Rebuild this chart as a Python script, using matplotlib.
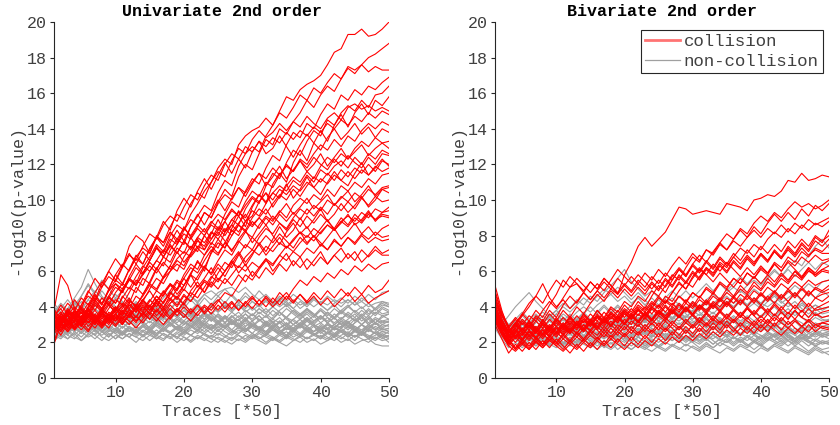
import matplotlib
matplotlib.use("Agg")
import matplotlib.pyplot as plt
from matplotlib.lines import Line2D

traces = list(range(1, 51))

uni_collision = [
 [3.2,2.9,3.6,3.1,3.8,3.4,4.1,3.7,4.5,4.2,5.0,5.6,5.3,6.2,6.8,7.5,7.1,8.0,8.6,8.3,9.2,9.8,10.5,11.0,11.8,12.3,12.0,13.1,13.6,13.9,14.1,14.6,14.2,15.0,15.8,15.6,16.2,16.5,16.7,17.0,17.6,18.3,18.5,19.3,19.3,19.6,19.2,19.3,19.6,20.0],
 [2.0,3.3,3.0,3.5,2.9,3.4,3.8,3.3,3.9,4.4,4.1,4.8,5.5,5.2,6.0,6.6,6.3,7.2,7.8,7.5,8.5,9.1,9.7,9.4,10.4,11.1,10.8,11.9,12.6,13.0,12.7,13.6,14.2,14.9,14.6,15.2,15.9,15.6,16.3,16.0,16.6,17.1,16.8,17.5,17.3,17.6,18.0,18.2,18.5,18.8],
 [3.5,3.0,3.7,3.3,2.9,3.6,3.2,3.9,4.3,3.8,4.5,5.1,4.8,5.6,5.3,6.1,6.8,6.5,7.3,7.0,7.9,8.5,9.3,9.0,9.9,10.6,10.2,11.3,12.0,11.7,12.6,13.4,13.1,14.0,13.7,14.4,14.9,15.6,15.2,15.9,16.4,16.1,16.8,17.4,17.1,17.6,17.2,17.5,17.3,17.3],
 [3.0,3.4,2.8,3.2,3.7,3.1,3.5,3.0,3.6,3.3,3.9,4.4,4.0,4.7,5.3,5.0,5.7,6.3,6.0,6.8,7.4,7.1,8.0,8.6,8.3,9.2,9.9,9.6,10.5,11.2,10.9,11.8,12.5,12.2,13.1,13.8,13.5,14.3,14.0,14.8,15.4,15.1,15.9,15.6,16.2,15.9,16.4,16.2,16.6,16.9],
 [3.3,2.8,3.1,3.6,3.2,2.7,3.3,3.0,3.5,3.2,3.7,3.4,4.0,3.7,4.3,4.9,4.6,5.3,5.0,5.8,6.4,6.1,6.9,7.6,7.3,8.2,8.9,8.6,9.5,10.1,9.8,10.8,11.5,11.2,12.1,12.8,12.5,13.3,13.9,13.6,14.5,14.2,14.9,15.3,15.0,15.6,15.2,15.9,16.0,16.4],
 [2.9,3.5,3.1,3.8,3.3,3.9,4.5,4.1,4.9,5.5,5.2,6.1,6.7,6.4,7.3,7.9,7.6,8.5,9.2,8.9,9.8,10.4,10.1,11.0,11.6,11.3,12.2,12.9,12.6,13.4,13.9,13.5,13.8,14.3,13.9,14.4,14.1,14.7,14.3,14.0,14.6,14.9,14.5,15.2,15.4,15.1,15.3,15.0,15.2,15.0],
 [1.9,3.0,2.6,3.2,3.7,3.3,3.0,3.6,3.2,3.8,4.2,3.9,4.6,4.3,5.0,5.6,5.3,6.0,6.6,6.3,7.0,7.7,7.4,8.2,8.0,8.8,9.4,9.1,9.9,10.5,10.2,11.0,10.7,11.4,11.9,11.6,12.3,12.0,12.6,13.1,12.8,13.4,13.0,13.6,13.3,13.9,14.3,14.0,14.4,14.2],
 [3.1,3.6,3.2,2.8,3.3,3.9,3.5,3.1,3.7,3.4,3.0,3.6,4.1,3.8,4.4,4.0,4.7,5.2,4.9,5.6,6.2,5.9,6.6,7.2,6.9,7.6,8.3,8.0,8.8,9.4,9.1,9.8,10.4,10.1,10.8,11.3,11.0,11.6,11.2,11.9,12.4,12.1,12.6,12.3,12.9,13.3,13.0,13.5,13.2,13.3],
 [2.6,3.1,3.7,3.3,3.9,3.5,4.2,3.8,4.5,5.1,4.8,5.5,6.2,5.8,6.6,7.3,7.0,7.8,7.5,8.3,8.9,8.6,9.3,9.0,9.8,10.3,10.0,10.7,10.4,11.0,11.5,11.2,11.8,11.4,12.0,11.6,12.2,11.8,12.4,12.0,11.7,12.3,11.9,12.5,12.1,11.8,12.4,12.0,12.6,12.5],
 [3.8,3.3,2.9,3.4,3.0,3.5,3.1,3.6,3.3,3.9,3.5,4.1,3.7,4.3,4.0,4.6,4.2,4.9,5.5,5.2,5.9,6.5,6.2,7.0,7.6,7.3,8.0,8.6,8.3,9.0,9.5,9.2,9.8,10.3,10.0,10.6,10.2,10.8,11.3,11.0,11.5,11.1,11.7,11.3,11.8,11.5,12.0,11.6,12.2,12.0],
 [3.0,3.5,3.1,3.7,3.2,3.8,3.4,3.0,3.6,3.2,3.8,3.4,3.9,3.5,4.1,3.7,4.3,4.8,4.5,5.2,5.8,5.5,6.2,5.9,6.6,7.2,6.9,7.6,8.2,7.9,8.6,9.1,8.8,9.4,9.0,9.7,10.1,9.8,10.3,10.0,10.6,10.2,10.8,10.5,11.0,10.7,11.2,10.9,11.4,11.5],
 [3.5,3.1,2.7,3.3,2.9,3.4,3.0,3.5,3.1,3.6,3.3,3.8,3.4,4.0,3.6,4.2,3.8,4.4,4.0,4.6,4.3,4.9,5.5,5.2,5.9,6.5,6.2,6.9,7.5,7.2,7.9,8.4,8.1,8.7,8.4,9.0,9.5,9.2,9.7,9.4,10.0,9.7,10.2,9.9,10.4,10.1,10.6,10.3,10.7,10.8],
 [2.8,3.3,3.8,3.4,4.0,3.6,4.3,3.9,4.6,4.2,4.9,5.5,5.2,5.9,6.5,6.1,6.8,7.4,7.0,7.7,7.3,7.9,7.6,8.2,7.8,8.4,8.0,8.6,8.2,8.8,8.4,9.0,8.6,9.2,8.8,9.3,8.9,9.5,9.1,9.6,9.2,9.8,9.4,9.9,9.5,10.1,9.7,10.2,9.9,10.0],
 [3.2,2.8,3.3,2.9,3.5,3.1,3.6,3.2,2.8,3.4,3.0,3.5,3.1,3.7,3.3,3.9,3.5,4.1,3.7,4.3,4.8,4.5,5.1,5.7,5.4,6.0,6.5,6.2,6.8,7.2,6.9,7.4,7.1,7.6,7.3,7.8,8.2,7.9,8.4,8.1,8.6,8.3,8.8,8.5,9.0,8.7,9.2,8.9,9.3,9.4],
 [3.0,3.6,4.2,3.8,4.5,4.1,4.8,5.4,5.0,5.8,6.4,6.0,6.8,7.3,7.0,8.0,7.6,8.2,7.8,8.4,8.0,8.6,8.2,8.8,8.4,8.0,8.6,8.2,8.8,8.5,9.0,8.6,9.1,8.7,8.3,8.9,8.5,9.1,8.7,9.2,8.8,8.4,9.0,8.6,9.2,8.8,9.3,8.9,9.1,9.0],
 [3.6,3.2,3.8,3.4,3.0,3.5,3.1,3.7,3.3,3.9,3.5,4.1,3.7,4.2,3.8,4.4,4.0,4.5,4.1,4.7,4.3,4.9,5.4,5.1,5.6,5.3,5.8,6.3,6.0,6.5,6.2,6.7,6.4,6.9,6.6,7.1,6.8,7.3,7.0,7.5,7.2,7.7,7.4,7.9,7.6,8.1,7.8,8.2,7.9,8.0],
 [3.1,2.7,3.3,3.8,3.4,4.0,4.6,4.2,4.9,5.3,5.0,5.6,5.2,5.8,6.3,5.9,6.5,6.1,6.7,7.1,6.8,7.3,6.9,7.4,7.0,7.6,7.2,7.7,7.3,7.9,7.5,8.0,7.6,8.1,7.7,7.3,7.9,7.5,8.0,7.6,7.2,7.8,7.4,7.9,7.5,8.0,7.6,7.9,7.7,7.8],
 [3.4,3.0,3.5,3.1,2.7,3.2,2.8,3.4,3.0,3.5,3.1,3.6,3.2,3.7,3.3,3.8,3.4,3.9,3.5,4.0,3.6,4.1,3.7,4.2,3.8,4.3,3.9,4.4,4.0,4.5,4.1,4.6,4.2,4.8,4.4,5.0,5.5,5.2,5.7,5.4,5.9,5.6,6.1,5.8,6.3,6.0,6.4,6.1,6.4,6.5],
 [2.9,3.4,3.0,3.5,3.1,3.6,3.2,2.8,3.3,2.9,3.4,3.0,3.5,3.1,3.6,3.2,3.7,3.3,3.8,3.4,3.9,3.5,4.0,3.6,4.1,3.7,4.2,3.8,4.3,3.9,4.4,4.0,4.5,4.1,4.6,4.2,4.7,4.3,4.8,4.4,4.9,4.5,5.0,4.6,5.1,4.7,5.2,4.8,5.0,5.5],
 [3.8,5.8,5.2,3.9,3.3,3.8,3.4,3.9,3.5,4.0,3.6,4.2,3.8,4.4,4.0,4.6,4.2,4.8,4.4,5.0,4.6,5.2,4.8,5.4,5.0,5.6,5.2,5.8,5.4,6.0,5.6,6.2,5.8,6.4,6.0,6.6,6.2,6.7,6.3,6.8,6.4,6.9,6.5,7.0,6.6,7.2,6.8,7.2,6.9,6.9],
 [3.3,3.7,3.1,3.6,3.9,3.4,3.2,3.8,3.5,4.0,3.7,4.3,4.1,4.6,5.2,4.9,5.6,6.0,6.4,6.1,6.9,7.4,7.2,7.8,8.5,8.2,8.9,9.3,9.0,9.7,10.3,9.9,10.4,10.8,10.5,11.1,10.8,11.4,11.0,11.7,11.4,11.9,12.2,11.8,12.4,12.0,12.6,12.3,12.8,12.6],
 [2.8,3.2,3.9,3.5,4.1,4.6,4.3,5.1,5.7,5.4,6.2,6.9,6.6,7.4,8.1,7.8,8.6,9.1,8.8,9.6,10.3,10.0,10.8,11.4,11.1,12.0,12.6,12.3,13.0,12.7,13.3,13.0,13.5,13.2,13.8,13.4,13.9,13.6,14.1,13.8,14.3,14.0,14.5,14.2,14.7,14.4,14.9,14.6,15.0,14.8],
 [3.0,2.6,3.1,2.7,3.2,3.6,3.3,2.9,3.4,3.0,3.5,3.2,2.8,3.3,3.7,3.4,3.0,3.5,3.9,3.6,3.2,3.7,4.1,3.8,4.3,4.8,4.6,5.2,5.8,5.5,6.1,6.6,6.3,6.9,7.4,7.1,7.6,8.0,7.7,8.2,8.6,8.3,8.8,9.1,8.8,9.3,9.0,9.5,9.3,9.6],
 [3.6,3.1,3.5,4.0,3.6,4.2,3.8,4.5,4.1,4.8,5.3,5.0,5.7,6.3,6.0,6.6,7.2,6.9,7.5,8.1,7.8,8.4,8.0,8.7,9.2,8.9,9.5,9.1,9.7,10.2,9.9,10.4,10.0,10.6,10.3,10.8,10.5,11.0,10.7,11.2,10.9,11.4,11.1,11.6,11.2,11.7,11.4,11.9,11.6,11.8],
 [3.4,4.1,3.6,4.4,3.9,4.8,5.6,5.1,6.0,6.7,6.2,7.4,8.0,7.7,7.0,7.9,8.8,8.3,9.4,10.1,9.6,10.5,11.2,10.6,11.4,12.1,11.5,12.3,11.8,12.7,13.3,12.6,12.9,13.6,13.0,12.4,13.1,13.7,13.2,12.8,13.5,14.0,13.4,13.8,14.3,13.7,14.1,13.5,14.0,13.8],
 [2.5,2.9,3.6,2.8,3.3,3.9,3.1,3.5,4.1,3.7,4.6,4.2,5.1,4.7,5.4,6.2,5.6,6.3,7.1,6.5,7.0,7.8,7.2,8.1,8.9,8.2,8.6,9.4,8.8,9.1,9.9,10.4,9.6,10.2,10.9,10.1,10.6,11.3,10.7,10.3,11.0,11.6,11.1,10.8,11.5,12.1,11.4,11.8,12.3,11.9],
 [3.9,3.2,3.5,2.7,3.1,3.8,3.4,2.9,3.3,3.6,3.1,3.5,4.0,3.4,3.8,4.3,3.7,4.2,4.6,4.1,4.9,5.4,4.8,5.6,6.2,5.7,6.4,7.0,6.3,6.9,7.6,7.1,7.8,8.5,7.9,8.3,9.0,8.4,8.9,9.5,8.8,9.2,9.8,9.3,9.7,10.2,9.6,10.0,10.6,10.4],
 [3.0,2.4,3.1,3.7,3.2,4.0,4.7,4.1,5.0,5.8,5.3,6.1,6.9,6.4,7.2,7.9,7.4,8.2,7.6,8.5,7.9,7.3,8.0,7.5,8.2,7.7,7.1,7.8,8.3,7.6,8.1,8.6,8.0,7.5,8.2,8.7,8.1,8.5,7.9,8.4,8.9,8.3,8.7,9.2,8.6,8.9,9.4,8.8,9.2,9.1],
 [2.7,3.3,2.9,3.5,3.0,2.6,3.2,3.7,3.1,3.6,3.2,3.9,3.4,4.1,3.6,4.4,3.9,4.7,5.4,4.9,5.8,6.6,6.0,7.1,7.8,7.3,8.4,9.1,8.5,9.6,10.3,9.8,10.9,11.5,11.0,12.1,12.8,12.2,13.2,13.9,13.3,14.2,14.8,14.1,14.9,15.4,14.8,15.6,15.3,15.8],
 [3.5,3.9,3.2,2.8,3.4,3.9,3.3,3.7,4.2,3.6,4.0,4.5,3.9,4.4,4.9,4.3,4.8,5.3,4.7,5.2,5.8,5.1,5.6,6.2,5.5,6.0,6.6,5.9,6.4,5.7,6.2,6.7,6.0,6.5,7.0,6.3,6.8,6.1,6.6,7.1,6.4,6.9,7.3,6.7,7.1,6.5,6.9,7.4,7.0,7.2],
 [3.1,2.6,3.3,3.8,3.2,3.7,4.4,3.9,4.6,5.3,4.8,5.7,6.4,5.9,6.6,7.4,6.8,7.6,8.3,7.7,8.5,9.2,8.6,9.3,10.0,9.4,10.1,10.7,10.2,10.9,11.5,10.8,11.3,11.9,11.2,11.7,12.2,11.6,12.0,12.6,11.9,12.4,12.9,12.3,12.7,13.1,12.5,12.9,13.2,12.9],
 [2.9,3.4,2.8,3.2,3.7,3.1,3.5,3.0,3.4,3.9,3.3,3.7,3.2,3.6,4.0,3.5,3.9,3.4,3.8,4.2,3.7,4.1,3.6,4.0,4.4,3.9,4.3,3.8,4.2,4.6,4.1,4.5,4.0,4.4,4.8,4.3,4.7,4.2,4.6,4.1,4.5,4.0,4.4,4.8,4.3,4.7,4.2,4.5,4.7,4.9],
 [2.6,3.2,3.8,3.3,4.1,4.9,4.4,5.3,6.0,5.5,6.3,7.0,6.4,7.1,6.6,7.3,6.8,7.5,7.0,7.7,7.2,7.9,8.4,7.8,8.3,8.8,8.2,8.7,9.2,8.6,9.0,9.5,8.9,9.3,9.8,9.2,9.6,10.1,9.5,9.9,10.3,9.7,10.1,10.5,9.9,10.3,10.8,10.2,10.6,10.7],
 [3.7,3.1,2.6,3.0,3.5,2.9,3.3,3.8,3.2,3.6,4.1,3.5,3.9,4.4,3.8,4.3,4.9,4.4,5.0,5.6,5.1,5.7,6.3,5.8,6.4,6.0,6.6,7.1,6.5,7.0,7.5,6.9,7.4,7.9,7.3,7.7,8.2,7.6,8.0,7.4,7.9,8.4,7.8,8.2,8.7,8.1,8.5,8.0,8.4,8.6],
]

uni_noncollision = [
 [2.5,2.8,2.4,2.9,3.1,2.7,3.0,2.6,2.9,3.2,2.8,3.1,3.4,3.0,2.7,3.1,2.9,3.3,3.0,2.8,3.2,2.9,2.6,3.0,2.8,3.1,2.7,2.5,2.9,3.2,2.8,2.6,3.0,2.7,2.4,2.8,3.1,2.9,2.6,2.8,3.0,2.7,2.9,3.2,2.8,2.6,2.9,3.1,2.7,2.8],
 [3.4,3.0,3.6,4.1,4.6,5.2,4.7,4.2,4.6,4.0,3.7,4.1,3.8,3.5,3.9,3.6,3.3,3.7,3.4,3.8,3.5,3.2,3.6,3.3,3.0,3.4,3.1,3.5,3.2,3.6,3.3,3.0,3.3,3.1,3.4,3.2,2.9,3.3,3.0,3.4,3.1,2.8,3.2,2.9,3.3,3.0,3.4,3.1,3.5,3.3],
 [3.0,3.5,3.9,4.5,5.1,6.1,5.3,4.6,4.2,4.7,4.3,3.9,4.2,3.8,4.1,3.7,3.4,3.8,3.5,3.2,3.6,3.3,3.7,3.4,3.1,3.5,3.2,2.9,3.3,3.0,2.8,3.2,2.9,3.1,2.7,3.0,2.8,3.2,2.9,2.6,3.0,2.7,2.9,3.1,2.8,2.5,2.9,2.7,3.0,2.9],
 [2.3,2.6,2.2,2.5,2.1,2.4,2.7,2.3,2.1,2.4,2.2,2.5,2.3,2.1,2.4,2.2,2.5,2.3,2.0,2.3,2.1,2.4,2.2,2.0,2.3,2.1,1.9,2.2,2.0,2.3,2.1,1.9,2.2,2.0,1.8,2.1,2.3,2.0,2.2,1.9,2.1,2.3,2.0,2.2,1.9,2.1,2.2,1.9,1.8,1.8],
 [3.8,3.3,2.9,3.4,3.7,3.2,3.6,3.9,3.5,3.2,3.6,3.3,3.0,3.4,3.7,3.3,3.6,3.9,3.5,3.8,3.4,3.7,4.0,3.6,3.9,4.2,3.8,4.1,3.7,4.0,3.6,3.9,3.5,3.8,4.1,3.7,3.4,3.8,3.5,3.9,3.6,3.3,3.7,3.4,3.8,3.5,3.9,3.6,4.0,3.8],
 [2.8,3.2,3.6,3.3,3.9,3.5,3.2,3.7,4.1,3.7,3.4,3.9,4.3,3.9,4.4,4.0,4.5,4.9,4.5,4.1,4.6,4.2,4.7,4.4,4.8,5.0,4.6,4.2,4.6,4.3,4.0,4.4,4.1,4.5,4.2,3.9,4.3,4.0,4.4,4.1,3.8,4.2,4.5,4.2,4.6,4.3,4.7,4.4,4.8,4.9],
 [2.6,2.3,2.7,2.4,2.8,2.5,2.9,2.6,2.3,2.7,2.5,2.8,2.6,2.9,3.2,2.9,2.6,3.0,2.7,2.5,2.8,3.1,2.8,2.5,2.9,2.6,2.4,2.7,2.5,2.3,2.6,2.4,2.2,2.5,2.3,2.6,2.4,2.7,2.5,2.3,2.6,2.4,2.7,2.5,2.3,2.6,2.4,2.2,2.5,2.3],
 [3.1,2.7,3.2,2.8,2.5,2.9,3.3,3.0,3.4,3.1,3.5,3.9,3.5,3.2,3.6,4.0,3.7,3.3,3.7,4.1,3.8,3.4,3.0,3.4,3.1,2.8,3.2,2.9,2.6,3.0,2.7,3.1,2.8,3.2,2.9,2.6,3.0,3.3,3.0,2.7,3.1,2.8,3.2,2.9,2.6,3.0,2.7,3.1,2.8,3.0],
 [3.3,3.7,3.2,2.8,3.3,3.0,2.7,3.1,2.8,2.5,2.9,2.6,2.9,3.2,2.8,2.5,2.8,3.1,2.7,3.0,3.3,2.9,3.2,3.5,3.1,3.4,3.0,3.3,3.6,3.2,3.5,3.1,3.4,3.7,3.3,3.0,3.3,3.6,3.2,3.5,3.1,3.4,3.0,3.3,3.6,3.2,3.5,3.1,3.4,3.6],
 [2.2,2.5,2.9,2.6,3.0,2.7,2.4,2.8,2.5,2.2,2.5,2.3,2.6,2.4,2.7,2.5,2.8,2.6,2.9,2.7,2.4,2.7,2.5,2.8,3.1,2.8,3.1,2.9,2.6,2.9,2.7,3.0,2.7,2.5,2.8,2.6,2.9,2.7,2.4,2.7,2.5,2.8,2.6,2.3,2.6,2.4,2.7,2.5,2.3,2.4],
 [4.0,3.6,3.2,3.7,3.3,3.8,4.2,3.8,3.4,3.9,3.5,3.2,3.6,3.3,3.7,4.0,3.6,3.9,4.3,3.9,3.6,4.0,3.7,4.1,4.4,4.0,3.7,4.1,3.8,3.5,3.9,3.6,4.0,3.7,3.4,3.8,3.5,3.9,3.6,3.3,3.7,3.4,3.8,3.5,3.2,3.6,3.3,3.7,3.5,3.6],
 [2.9,3.3,2.9,2.6,3.0,2.7,3.1,2.8,3.2,2.9,2.6,2.9,2.7,3.0,2.7,2.4,2.8,2.5,2.3,2.6,2.4,2.7,2.4,2.2,2.5,2.3,2.6,2.4,2.1,2.4,2.2,2.5,2.3,2.0,2.3,2.1,2.4,2.2,2.5,2.3,2.1,2.4,2.2,2.5,2.3,2.6,2.3,2.1,2.4,2.2],
 [3.2,2.8,3.3,3.0,3.4,3.1,2.8,3.2,3.5,3.2,3.6,3.3,3.7,3.4,3.8,4.1,3.8,4.2,4.5,4.2,4.6,4.3,4.7,4.9,4.6,5.0,5.1,4.8,5.1,4.7,4.4,4.7,4.3,4.0,4.3,3.9,3.6,3.9,3.5,3.8,3.4,3.1,3.4,3.1,3.4,3.0,3.3,3.0,3.2,3.1],
 [2.7,3.1,3.5,3.1,2.8,3.2,2.9,2.6,2.9,2.6,2.4,2.7,2.4,2.7,2.5,2.2,2.5,2.3,2.6,2.4,2.7,2.5,2.8,3.0,2.7,2.9,2.6,2.8,3.1,2.8,2.6,2.9,3.1,2.8,3.0,2.7,2.9,3.2,2.9,3.1,2.8,3.0,3.3,3.0,2.7,3.0,2.8,3.1,2.9,3.0],
 [3.6,4.1,3.7,4.2,3.8,4.4,4.9,4.5,4.1,4.5,4.1,3.8,4.1,3.7,3.4,3.7,3.4,3.1,3.4,3.1,2.9,3.2,2.9,2.7,3.0,2.8,3.1,2.8,2.6,2.9,2.7,3.0,2.7,2.5,2.8,2.6,2.9,2.7,3.0,2.8,2.5,2.8,2.6,2.9,2.7,2.4,2.7,2.5,2.8,2.6],
 [2.5,2.9,2.6,3.0,3.4,3.0,3.3,2.9,3.2,3.6,3.2,3.5,3.2,3.6,3.3,3.6,3.3,3.7,3.4,3.8,3.5,3.9,3.6,4.0,3.7,4.1,3.8,4.2,3.9,4.3,4.0,4.3,4.0,4.3,4.1,4.4,4.1,4.3,4.0,4.3,4.1,4.4,4.2,4.4,4.1,4.3,4.0,4.2,4.3,4.1],
 [3.5,3.1,2.8,3.2,2.9,2.6,3.0,2.7,2.4,2.7,2.5,2.8,2.6,2.3,2.6,2.4,2.7,2.5,2.8,2.6,2.9,2.7,3.0,2.8,3.1,2.9,3.2,2.9,2.7,3.0,2.8,2.5,2.8,2.6,2.9,2.7,3.0,2.8,2.6,2.9,2.7,3.0,2.8,3.1,2.9,2.7,3.0,2.8,2.6,2.7],
 [2.4,2.8,3.2,2.9,2.5,2.9,2.6,3.0,2.7,3.1,2.8,3.2,2.9,2.6,2.9,3.3,3.0,3.4,3.1,3.5,3.2,3.6,3.3,3.7,3.4,3.1,3.5,3.2,3.6,3.3,3.7,3.4,3.8,3.5,3.9,3.6,3.3,3.7,3.4,3.8,3.5,3.9,3.6,4.0,3.7,3.4,3.8,3.5,3.9,3.7],
 [3.0,3.4,3.8,4.3,3.9,4.4,4.0,4.5,4.1,3.7,4.1,3.8,3.5,3.8,3.4,3.1,3.4,3.0,3.3,3.0,3.3,3.0,3.3,3.6,3.2,3.5,3.2,2.9,3.2,2.9,3.2,3.5,3.1,2.8,3.1,2.8,3.1,3.4,3.0,2.7,3.0,2.8,3.1,2.8,3.1,3.4,3.0,3.3,3.0,3.2],
 [2.1,2.4,2.2,2.6,2.3,2.7,2.4,2.1,2.5,2.2,2.6,2.3,2.0,2.4,2.1,2.4,2.2,2.5,2.3,2.1,2.4,2.2,2.5,2.2,2.0,2.3,2.1,2.4,2.2,2.5,2.3,2.0,2.3,2.1,2.4,2.2,2.0,2.3,2.1,2.4,2.2,2.5,2.3,2.1,2.4,2.2,2.0,2.3,2.1,2.2],
 [3.9,3.4,3.0,3.5,4.0,3.6,3.2,3.7,3.3,2.9,3.3,3.0,3.4,3.1,2.8,3.2,3.5,3.1,2.8,3.2,2.9,3.3,3.0,2.7,3.1,3.4,3.0,3.3,2.9,3.2,3.5,3.1,2.8,3.1,3.4,3.0,3.3,2.9,3.2,3.5,3.1,3.4,3.0,2.7,3.1,3.4,3.0,3.3,3.1,3.2],
 [2.3,2.7,2.4,2.2,2.6,2.3,2.5,2.9,2.6,2.8,2.5,2.3,2.7,2.4,2.6,2.3,2.1,2.5,2.2,2.6,2.4,2.2,2.5,2.3,2.7,2.4,2.2,2.5,2.8,2.5,2.2,2.4,2.7,2.4,2.6,2.3,2.5,2.2,2.4,2.6,2.3,2.1,2.4,2.6,2.3,2.5,2.2,2.4,2.6,2.5],
 [3.4,3.9,4.4,3.9,4.6,5.3,4.8,5.5,5.0,4.5,4.9,4.4,4.0,4.3,3.9,3.6,3.9,3.5,3.8,3.4,3.7,3.3,3.6,3.2,3.5,3.1,3.4,3.7,3.3,3.6,3.2,3.5,3.1,3.4,3.0,3.3,3.6,3.2,3.5,3.1,3.4,3.0,3.3,3.6,3.2,3.5,3.1,3.4,3.2,3.3],
 [2.8,2.5,2.9,3.3,2.9,3.2,2.8,3.1,3.5,3.1,3.4,3.8,3.4,3.7,3.3,3.6,4.0,3.6,3.9,3.5,3.8,4.2,3.8,4.1,3.7,4.0,4.3,3.9,4.2,3.8,4.1,3.7,4.0,4.4,4.0,4.3,3.9,4.2,4.5,4.1,3.8,4.1,3.7,4.0,4.3,3.9,4.2,3.8,4.1,4.0],
 [3.2,2.8,2.5,2.9,2.6,3.0,2.7,2.4,2.7,2.5,2.2,2.5,2.3,2.6,2.4,2.7,2.4,2.2,2.5,2.3,2.0,2.3,2.1,2.4,2.2,2.0,2.3,2.1,2.4,2.2,2.5,2.3,2.1,2.4,2.2,2.5,2.3,2.6,2.4,2.2,2.5,2.3,2.6,2.4,2.7,2.5,2.3,2.6,2.4,2.3],
 [3.6,3.2,3.7,3.3,3.8,3.4,3.9,3.5,3.1,3.5,3.2,3.6,3.3,3.7,3.4,3.8,4.2,3.8,4.3,3.9,4.4,4.0,4.5,4.1,4.6,4.2,4.7,4.3,4.8,4.4,4.9,4.5,4.2,4.6,4.3,4.7,4.4,4.1,4.5,4.2,4.6,4.3,4.0,4.4,4.1,4.5,4.2,3.9,4.3,4.2],
 [2.6,3.0,2.7,3.1,2.8,3.3,2.9,2.6,3.0,2.7,3.1,2.8,2.5,2.9,2.6,3.0,2.7,3.1,2.8,2.5,2.9,2.6,3.0,2.7,2.4,2.8,2.5,2.9,2.6,3.0,2.7,2.4,2.8,2.5,2.9,2.6,3.0,2.7,2.4,2.8,2.5,2.9,2.6,2.3,2.7,2.4,2.8,2.5,2.2,2.4],
 [4.2,3.7,3.3,3.8,3.4,3.9,3.5,3.1,3.5,3.2,3.6,3.3,3.7,3.4,3.1,3.5,3.2,2.9,3.3,3.0,3.4,3.1,3.5,3.2,3.6,3.3,3.7,3.4,3.8,3.5,3.9,3.6,3.3,3.7,3.4,3.8,3.5,3.9,3.6,3.3,3.7,3.4,3.8,4.1,3.7,4.0,3.6,3.9,4.2,4.0],
 [2.9,3.3,2.9,3.4,3.0,2.7,3.1,2.8,3.2,2.9,2.5,2.9,2.6,3.0,2.7,3.1,2.8,2.5,2.9,2.6,3.0,2.7,3.1,2.8,3.2,2.9,3.3,3.0,2.7,3.1,2.8,2.5,2.9,2.6,2.3,2.7,2.4,2.8,2.5,2.2,2.6,2.3,2.7,2.4,2.1,2.5,2.2,2.6,2.3,2.0],
 [3.3,2.9,3.4,3.8,4.3,3.8,4.4,4.9,4.4,3.9,4.3,3.8,4.2,3.7,4.1,3.6,4.0,3.5,3.9,3.4,3.8,3.3,3.7,3.2,3.6,3.1,3.5,3.0,3.4,2.9,3.3,2.9,3.2,2.8,3.1,2.7,3.0,2.6,2.9,2.5,2.8,2.5,2.8,3.1,2.7,3.0,2.6,2.9,2.7,2.8],
 [2.4,2.2,2.6,2.3,2.1,2.5,2.2,2.6,2.3,2.7,2.4,2.8,2.5,2.9,2.6,3.0,2.7,3.1,2.8,3.2,2.9,3.3,3.0,3.4,3.1,2.8,3.2,2.9,3.3,3.0,2.7,3.1,2.8,3.2,2.9,3.3,3.0,3.4,3.1,3.5,3.2,3.6,3.3,3.7,3.4,3.8,3.5,3.9,3.6,3.7],
 [3.7,4.2,3.8,4.3,3.9,3.5,3.9,3.5,3.2,3.6,3.3,3.0,3.4,3.1,3.5,3.2,2.9,3.3,3.0,2.7,3.1,2.8,3.2,2.9,2.6,3.0,2.7,3.1,2.8,2.5,2.9,2.6,3.0,2.7,2.4,2.8,2.5,2.9,2.6,3.0,2.7,2.4,2.8,2.5,2.9,2.6,3.0,2.7,2.4,2.6],
]

biv_collision = [
 [4.2,2.9,2.4,2.8,3.3,2.9,3.5,3.2,3.8,3.4,4.1,4.6,4.2,4.8,4.4,4.9,4.5,5.0,4.7,5.8,6.5,7.4,7.9,7.4,7.8,8.2,8.9,9.6,9.5,9.2,9.3,9.4,9.3,9.2,9.8,9.7,9.6,9.4,10.0,10.1,10.3,10.2,10.5,11.1,11.0,11.5,11.1,11.2,11.4,11.3],
 [3.9,2.6,2.2,2.7,2.4,2.9,2.5,3.1,2.7,3.3,2.9,3.4,3.0,3.6,3.2,3.8,3.4,4.0,3.7,4.3,4.0,4.6,4.3,4.9,4.6,5.2,5.8,5.5,6.2,6.8,6.5,7.2,7.0,7.6,8.1,7.8,8.4,8.1,8.7,9.1,8.8,9.3,9.0,9.5,9.9,9.6,9.8,9.5,9.7,10.0],
 [4.0,3.2,2.6,3.1,3.6,4.2,4.6,5.3,4.5,4.0,4.4,3.9,4.3,4.8,4.4,4.9,5.4,5.0,5.6,5.2,5.7,5.3,5.9,5.5,6.1,5.7,6.3,6.8,6.4,7.0,6.6,7.2,6.9,7.5,7.2,7.7,7.4,7.9,8.3,7.9,8.4,8.1,8.6,8.2,8.7,8.4,8.9,8.6,8.8,9.0],
 [3.6,2.8,2.3,2.7,2.2,2.6,2.3,2.8,2.4,2.9,2.6,3.1,2.8,3.3,3.0,3.5,3.2,3.7,3.4,3.9,3.6,4.1,3.8,4.3,4.0,4.6,4.3,4.9,5.4,5.1,5.7,6.2,5.9,6.5,6.2,6.8,7.3,7.0,7.5,7.2,7.8,8.2,7.9,8.4,8.1,8.6,8.3,8.7,8.5,8.8],
 [4.4,3.5,2.9,3.4,3.0,3.5,3.2,3.8,4.3,3.9,4.5,5.1,5.6,5.2,4.8,5.3,4.9,5.5,6.1,5.7,5.3,5.8,5.4,5.0,5.5,5.1,5.7,6.2,5.8,6.4,6.0,6.6,6.2,6.8,6.4,7.0,6.6,7.2,6.8,7.4,7.0,7.5,7.1,7.7,7.3,7.8,7.4,8.0,7.7,8.0],
 [3.3,2.5,1.9,2.4,2.1,2.6,2.2,2.7,2.3,2.8,2.5,3.0,2.7,3.2,2.9,3.4,3.1,3.6,3.3,3.8,3.5,4.0,3.7,4.2,3.9,4.4,4.1,4.6,4.3,4.8,4.5,5.0,4.7,5.3,5.0,5.6,5.3,5.9,5.6,6.2,5.9,6.5,6.2,6.8,6.5,7.1,6.8,7.3,7.1,7.5],
 [4.8,3.6,2.8,3.3,2.7,3.1,2.6,3.0,2.5,2.9,2.4,2.8,2.5,3.0,2.7,3.2,2.9,3.4,3.1,3.6,3.3,3.8,3.5,4.0,3.7,4.3,4.0,4.6,4.2,4.8,4.5,5.1,4.8,5.4,5.1,5.6,5.3,5.9,5.6,6.1,5.8,6.4,6.0,6.6,6.3,6.8,6.5,6.9,6.6,6.7],
 [3.8,3.0,2.4,2.0,2.5,2.1,2.6,2.2,2.7,2.3,2.8,2.5,3.0,2.6,3.1,2.7,3.2,2.9,3.4,3.0,3.5,3.2,3.7,3.3,3.8,3.5,4.0,3.7,4.2,3.9,4.4,4.1,4.6,4.3,4.8,4.5,5.0,4.7,5.2,4.9,5.4,5.1,5.6,5.3,5.8,5.5,6.0,5.8,6.1,6.3],
 [3.5,2.7,2.1,2.6,2.2,2.7,2.3,1.9,2.4,2.0,2.5,2.1,2.6,2.2,2.7,2.4,2.9,2.5,3.0,2.7,3.2,2.9,3.4,3.0,3.5,3.2,3.7,3.4,3.9,3.6,4.1,3.8,4.3,4.0,4.5,4.2,4.7,4.4,4.9,4.6,5.1,4.8,5.3,5.0,5.4,5.1,5.5,5.2,5.4,5.5],
 [4.1,3.1,2.5,3.0,2.6,3.1,2.7,3.2,2.8,3.3,2.9,3.4,3.0,3.5,3.1,3.6,3.2,3.7,3.3,3.8,3.4,3.9,3.5,4.0,3.6,4.1,3.7,4.2,3.8,4.3,3.9,4.4,4.0,4.5,4.1,4.6,4.2,4.7,4.3,4.8,4.4,4.9,4.5,5.0,4.6,5.1,4.7,5.0,4.8,5.0],
 [3.2,2.4,1.8,2.3,1.9,2.4,2.0,2.5,2.1,2.6,2.2,2.7,2.3,2.8,2.4,2.9,2.5,3.0,2.6,3.1,2.7,3.2,2.8,3.3,2.9,3.4,3.0,3.5,3.1,3.6,3.2,3.7,3.3,3.8,3.4,3.9,3.5,4.0,3.6,4.1,3.7,4.2,3.8,4.3,3.9,4.4,4.0,4.5,4.3,4.6],
 [3.7,2.9,2.2,1.6,2.1,1.7,2.2,1.8,2.3,1.9,2.4,2.0,2.5,2.1,2.6,2.2,2.7,2.3,2.8,2.4,2.9,2.5,3.0,2.6,3.1,2.7,3.2,2.8,3.3,2.9,3.4,3.0,3.5,3.1,3.6,3.2,3.7,3.3,3.8,3.4,3.9,3.5,4.0,3.6,4.1,3.7,4.2,3.8,3.9,4.0],
 [4.3,3.3,2.6,3.1,2.7,3.2,2.8,2.4,2.9,2.5,3.0,2.6,3.1,2.7,3.2,2.8,3.3,2.9,3.4,3.0,3.5,3.1,3.6,3.2,3.7,3.3,3.8,3.4,3.9,3.5,3.1,3.6,3.2,3.7,3.3,3.8,3.4,3.9,3.5,3.1,3.6,3.2,3.7,3.3,3.8,3.4,3.2,3.6,3.4,3.5],
 [3.0,2.2,1.4,1.9,1.5,2.0,1.6,2.1,1.7,2.2,1.8,1.4,1.9,1.5,2.0,1.6,2.1,1.7,2.2,1.8,2.3,1.9,2.4,2.0,2.5,2.1,2.6,2.2,2.7,2.3,2.8,2.4,2.9,2.5,3.0,2.6,3.1,2.7,3.2,2.8,3.3,2.9,3.4,3.0,3.3,2.9,3.2,2.8,3.1,3.0],
 [5.2,3.8,2.7,2.2,2.6,2.2,2.7,2.3,2.8,2.4,2.9,2.5,3.0,2.6,3.1,2.7,2.3,2.8,2.4,2.9,2.5,3.0,2.6,3.1,2.7,3.2,2.8,2.4,2.9,2.5,3.0,2.6,3.1,2.7,3.2,2.8,2.4,2.9,2.5,3.0,2.6,3.1,2.7,3.2,2.8,2.5,3.0,2.6,2.9,2.8],
 [3.4,2.6,2.0,2.5,2.1,2.6,2.2,2.7,2.3,2.8,2.4,2.9,2.5,3.0,2.6,3.1,2.7,3.2,2.8,3.3,3.0,3.6,3.3,3.9,4.5,4.2,4.8,5.3,5.0,5.6,6.1,5.8,6.4,6.0,6.5,6.1,5.7,6.2,5.8,6.3,5.9,6.4,6.0,6.5,6.1,5.7,6.2,5.8,6.1,6.0],
 [3.9,3.0,2.5,3.0,3.6,3.2,3.8,3.4,4.1,4.7,5.5,5.1,5.3,4.8,5.4,5.0,5.6,5.2,4.8,5.3,4.9,5.5,5.1,5.7,5.3,5.9,5.5,6.1,5.7,6.3,5.9,6.5,6.1,6.7,6.3,6.8,6.4,6.9,6.5,7.0,6.6,7.1,6.7,7.2,6.8,7.3,6.9,7.2,7.0,7.0],
 [4.6,3.5,2.8,2.3,2.8,2.4,2.9,2.5,3.0,2.6,3.1,2.7,3.2,2.8,3.3,2.9,3.4,3.0,3.5,3.1,3.6,3.2,3.7,3.3,3.8,3.4,3.9,3.5,4.0,3.6,4.1,3.7,4.2,3.8,4.3,3.9,4.4,4.0,4.5,4.1,4.6,4.2,4.7,4.3,4.8,4.4,4.9,4.5,4.7,4.8],
 [4.5,3.3,2.6,3.1,2.6,3.2,2.7,3.3,2.8,3.4,2.9,3.5,3.0,3.6,3.2,3.8,3.3,3.9,3.5,4.1,3.7,4.3,3.9,4.6,5.2,4.8,5.5,6.1,5.7,6.4,6.9,6.5,7.1,7.6,7.2,7.8,8.3,7.9,8.5,8.1,8.7,9.2,8.8,9.3,8.9,9.5,9.1,9.7,9.4,9.8],
 [3.7,2.9,2.3,2.9,3.5,4.0,4.6,4.2,4.9,5.5,5.1,5.7,5.3,4.9,5.4,5.0,5.6,5.2,4.7,5.2,4.8,5.3,4.9,5.4,5.0,5.6,5.2,5.8,5.4,6.0,5.6,6.2,5.8,6.4,6.0,6.6,6.2,6.8,6.4,7.0,6.6,7.2,6.8,7.4,7.0,7.6,7.2,7.9,7.6,8.3],
 [4.1,3.0,2.2,1.7,2.2,1.8,2.3,1.9,2.4,2.0,1.6,2.1,1.7,2.2,1.8,2.3,1.9,2.4,2.0,2.5,2.1,2.6,2.2,2.7,2.3,2.8,2.4,2.9,2.5,3.0,2.6,3.1,2.7,3.2,2.8,3.3,2.9,3.4,3.0,3.5,3.1,3.6,3.2,3.7,3.3,3.8,3.4,3.9,4.1,4.3],
 [3.5,2.7,2.1,2.6,3.1,2.7,3.2,2.8,3.3,2.9,3.4,3.0,3.5,3.1,3.6,3.2,3.7,3.3,3.8,3.4,3.9,3.5,4.0,3.6,4.1,3.7,4.2,3.8,4.4,4.0,4.6,4.2,4.8,4.4,5.0,4.6,5.2,4.8,5.4,5.0,5.6,5.2,5.8,5.4,6.0,5.6,6.2,5.9,6.4,6.6],
 [4.9,3.7,2.9,2.3,2.8,2.3,2.8,2.4,2.9,2.5,3.0,2.6,3.1,2.7,3.2,2.8,3.3,2.9,3.4,3.0,3.5,3.1,3.6,3.2,3.7,3.3,3.8,3.4,3.9,3.5,4.0,3.6,4.1,3.7,4.2,3.8,3.4,3.9,3.5,4.0,3.6,4.1,3.7,3.3,3.8,3.4,3.9,3.5,3.7,3.8],
 [3.2,2.5,2.0,2.6,3.2,2.8,3.4,3.0,3.6,3.2,3.8,3.4,4.0,3.6,4.2,4.7,4.3,4.9,4.5,5.0,4.6,5.1,4.7,5.3,4.9,5.5,5.1,5.7,5.3,5.9,5.5,6.1,5.7,6.3,5.9,6.5,6.1,6.7,6.3,6.9,6.5,7.1,6.7,7.3,6.9,7.5,7.1,7.7,7.4,7.8],
 [3.4,2.5,1.8,1.5,1.9,1.6,2.0,1.7,2.1,1.8,2.2,1.9,2.3,2.0,2.4,2.1,2.5,2.2,2.6,2.3,2.7,2.4,2.8,2.5,2.9,2.6,3.0,2.7,3.1,2.8,3.2,2.9,3.3,3.0,3.4,3.1,3.5,3.2,2.9,3.3,3.0,3.4,3.1,2.8,3.2,2.9,3.3,3.0,3.1,3.2],
 [4.0,3.1,2.5,3.0,2.5,3.0,2.6,3.1,2.7,3.2,2.8,3.3,2.9,3.4,3.0,3.5,3.1,3.6,3.2,3.7,3.3,3.8,3.4,3.9,3.5,4.0,3.6,4.1,3.7,4.2,3.8,4.3,3.9,4.4,4.0,4.5,4.1,4.6,4.2,4.7,4.3,4.8,4.4,4.9,4.5,5.0,4.6,5.1,4.9,5.2],
 [3.8,2.9,2.3,2.8,2.4,2.9,2.5,3.0,2.6,3.1,2.7,3.2,2.8,3.3,2.9,3.4,3.0,3.5,3.1,3.7,3.3,3.9,3.5,4.1,4.6,4.2,4.8,5.4,5.0,5.7,6.2,5.8,5.4,5.9,5.5,5.1,5.6,5.2,5.7,5.3,5.8,5.4,5.9,5.5,6.0,5.6,6.1,5.7,6.0,5.9],
 [3.6,2.7,2.0,1.6,2.0,1.6,2.1,1.7,2.2,1.8,1.5,1.9,1.6,2.0,1.7,2.1,1.8,2.2,1.9,1.6,2.0,1.7,2.1,1.8,2.2,1.9,2.3,2.0,2.4,2.1,2.5,2.2,2.6,2.3,2.7,2.4,2.8,2.5,2.9,2.6,3.0,2.7,2.4,2.8,2.5,2.9,2.6,3.0,2.8,2.7],
]

biv_noncollision = [
 [4.0,3.2,2.6,2.9,2.5,2.8,2.4,2.7,2.3,2.6,2.2,2.5,2.1,2.4,2.2,2.5,2.3,2.6,2.4,2.2,2.5,2.3,2.1,2.4,2.2,2.5,2.3,2.0,2.3,2.1,2.4,2.2,1.9,2.2,2.0,2.3,2.1,1.8,2.1,1.9,2.2,2.0,1.8,2.1,1.9,2.2,2.0,1.8,2.0,1.9],
 [3.5,2.9,2.5,2.8,3.2,2.9,3.3,3.7,3.4,3.8,4.2,3.9,4.4,4.1,4.6,4.3,4.8,5.2,5.6,6.1,5.4,5.0,4.6,4.9,4.5,4.2,4.5,4.1,3.8,4.1,3.7,3.4,3.7,3.3,3.0,3.3,3.0,3.2,2.9,3.1,2.8,3.0,2.7,2.9,2.6,2.8,2.5,2.7,2.5,2.6],
 [3.2,2.6,2.1,2.4,2.0,2.3,1.9,2.2,1.8,2.1,1.7,2.0,1.8,2.1,1.9,1.6,1.9,1.7,2.0,1.8,1.6,1.9,1.7,1.5,1.8,1.6,1.9,1.7,1.5,1.8,1.6,1.9,1.7,2.0,1.8,1.6,1.9,1.7,2.0,1.8,1.6,1.9,1.7,1.5,1.8,1.6,1.4,1.7,1.5,1.3],
 [3.8,3.0,3.5,4.0,4.4,4.8,4.3,3.9,3.5,3.8,3.4,3.1,3.4,3.1,2.8,3.1,2.8,3.1,2.9,2.6,2.9,2.7,3.0,2.8,2.5,2.8,2.6,2.9,2.7,2.4,2.7,2.5,2.8,2.6,2.3,2.6,2.4,2.7,2.5,2.2,2.5,2.3,2.6,2.4,2.2,2.5,2.3,2.1,2.4,2.2],
 [3.0,2.4,2.0,2.3,2.6,2.3,2.7,2.4,2.8,2.5,2.9,2.6,3.0,2.7,3.1,2.8,3.2,2.9,3.3,3.0,3.4,3.1,3.5,3.2,3.6,3.3,3.7,3.4,3.8,3.5,3.9,4.2,3.9,4.3,4.6,4.2,4.5,4.1,4.4,4.0,3.7,4.0,3.6,3.9,3.5,3.8,3.4,3.7,3.4,3.5],
 [4.4,3.4,2.8,3.1,2.7,3.0,2.6,2.9,3.2,2.9,2.6,2.9,2.6,2.3,2.6,2.4,2.7,2.5,2.2,2.5,2.3,2.6,2.4,2.7,2.5,2.2,2.5,2.3,2.6,2.4,2.1,2.4,2.2,2.5,2.3,2.0,2.3,2.1,2.4,2.2,2.5,2.3,2.0,2.3,2.1,2.4,2.2,2.5,2.3,2.4],
 [3.6,2.8,2.3,2.6,2.2,2.5,2.8,2.5,2.9,2.6,3.0,2.7,3.1,2.8,3.2,2.9,2.6,2.9,3.2,2.9,3.3,3.0,2.7,3.0,2.7,3.0,2.8,3.1,2.8,2.5,2.8,2.6,2.9,2.7,3.0,2.8,2.5,2.8,2.6,2.9,2.7,3.0,2.8,2.5,2.8,2.6,2.9,2.7,2.9,2.8],
 [3.3,2.7,2.2,2.5,2.8,2.5,2.9,2.6,3.0,2.7,3.1,2.8,3.2,2.9,3.3,3.0,3.4,3.1,3.5,3.2,3.6,3.3,3.7,3.4,3.8,3.5,3.9,3.6,4.0,3.7,4.1,3.8,4.2,3.9,4.3,4.0,4.4,4.1,4.5,4.2,4.0,4.3,4.0,4.2,3.9,4.2,3.9,4.1,3.8,4.0],
 [2.9,2.3,1.9,2.2,1.8,2.1,2.4,2.1,1.8,2.1,1.9,2.2,2.0,2.3,2.1,1.8,2.1,1.9,2.2,2.0,2.3,2.1,1.9,2.2,2.0,2.3,2.1,2.4,2.2,2.0,2.3,2.1,2.4,2.2,2.0,2.3,2.1,2.4,2.2,2.0,2.3,2.1,1.9,2.2,2.0,2.3,2.1,1.9,2.1,2.0],
 [4.2,3.5,3.0,3.3,3.7,3.3,3.6,3.2,3.5,3.1,3.4,3.0,3.3,2.9,3.2,2.8,3.1,2.8,3.1,2.8,3.1,2.9,3.2,2.9,3.2,3.0,3.3,3.0,3.3,3.1,3.4,3.1,2.8,3.1,2.9,3.2,2.9,3.2,3.0,2.7,3.0,2.8,3.1,2.9,2.6,2.9,2.7,3.0,2.8,2.9],
 [3.1,2.5,2.1,2.4,2.0,2.3,2.6,2.3,2.6,2.4,2.7,2.5,2.8,2.6,2.9,2.7,3.0,2.8,3.1,2.9,3.2,3.0,3.3,3.1,3.4,3.6,3.3,3.7,3.4,3.8,4.1,3.8,4.2,4.5,4.2,4.6,4.9,4.6,5.0,4.7,4.4,4.7,4.3,4.0,4.3,3.9,3.6,3.9,3.6,3.7],
 [3.4,2.7,2.2,2.5,2.1,2.4,2.0,2.3,1.9,2.2,1.9,2.2,2.0,2.3,2.1,2.4,2.2,2.5,2.3,2.6,2.4,2.7,2.5,2.3,2.6,2.4,2.7,2.5,2.2,2.5,2.3,2.6,2.4,2.1,2.4,2.2,2.5,2.3,2.6,2.4,2.2,2.5,2.3,2.6,2.4,2.2,2.5,2.3,2.5,2.4],
 [3.7,3.0,2.5,2.8,2.4,2.7,2.3,2.6,2.9,2.6,2.9,2.6,2.3,2.6,2.8,2.5,2.8,2.5,2.8,3.1,2.8,3.1,3.4,3.1,3.4,3.1,3.4,3.2,3.5,3.2,3.0,3.3,3.0,3.3,3.1,2.8,3.1,2.9,3.2,2.9,3.2,3.0,3.3,3.0,3.3,3.1,2.8,3.1,2.9,3.0],
 [2.8,2.2,1.7,2.0,1.7,2.0,1.8,2.1,1.9,1.7,2.0,1.8,2.1,1.9,1.7,2.0,1.8,1.6,1.9,1.7,2.0,1.8,1.6,1.9,1.7,1.5,1.8,1.6,1.9,1.7,1.5,1.8,1.6,1.4,1.7,1.5,1.8,1.6,1.4,1.7,1.5,1.8,1.6,1.4,1.7,1.5,1.3,1.6,1.4,1.5],
 [3.9,3.1,2.6,2.9,3.3,3.0,3.4,3.1,3.5,3.2,3.6,3.3,3.7,4.0,3.7,4.1,4.4,4.7,4.3,4.6,4.2,4.5,4.1,3.8,4.1,3.7,3.4,3.7,3.3,3.0,3.3,2.9,3.2,2.8,3.1,2.7,3.0,2.6,2.9,2.6,2.9,2.6,2.4,2.7,2.5,2.8,2.6,2.4,2.7,2.6],
 [3.0,2.5,2.0,2.3,2.0,2.3,2.1,2.4,2.2,2.5,2.3,2.6,2.4,2.7,2.5,2.8,2.6,2.9,2.7,3.0,2.8,3.1,2.9,3.2,3.0,3.3,3.1,3.4,3.2,3.5,3.3,3.6,3.4,3.7,3.5,3.8,3.6,3.9,4.2,3.9,4.3,4.6,4.2,4.5,4.8,4.3,3.9,3.6,3.3,3.2],
 [3.6,2.9,2.4,2.7,2.3,2.6,2.9,2.6,3.0,2.7,3.1,2.8,3.2,2.9,3.3,3.0,3.4,3.1,3.5,3.2,3.6,3.3,3.7,3.4,3.8,3.5,3.9,4.2,3.9,4.3,4.0,4.4,4.7,4.4,4.8,5.1,4.8,5.2,5.5,5.2,5.6,6.0,5.7,6.2,6.6,6.3,6.9,7.4,7.8,7.3],
 [3.3,2.6,2.1,2.5,2.2,2.6,2.3,2.7,2.4,2.8,2.5,2.9,2.6,3.0,2.7,3.1,2.8,3.2,2.9,3.3,3.0,3.4,3.1,3.5,3.2,3.6,3.3,3.7,3.4,3.8,3.5,3.9,3.6,4.0,4.3,4.0,4.4,4.1,4.5,4.2,4.6,4.9,4.5,4.8,5.2,4.9,5.3,5.0,5.4,5.5],
 [3.4,2.8,2.3,2.6,2.2,2.5,2.1,2.4,2.0,2.3,1.9,2.2,2.5,2.2,1.9,2.2,1.9,2.2,2.4,2.1,2.4,2.1,1.8,2.1,1.8,2.1,2.3,2.0,2.3,2.0,1.7,2.0,1.7,2.0,2.2,1.9,2.2,1.9,1.6,1.9,1.6,1.9,2.1,1.8,2.1,1.8,1.5,1.8,1.6,1.7],
 [4.1,3.3,2.8,3.1,3.5,3.1,3.5,3.1,3.4,3.0,3.4,3.0,3.3,3.6,3.2,3.5,3.1,3.4,3.7,3.3,3.6,3.2,3.5,3.1,3.4,3.7,3.3,3.6,3.2,3.5,3.1,3.4,3.0,3.3,2.9,3.2,2.8,3.1,2.7,3.0,2.6,2.9,2.5,2.8,2.4,2.7,2.3,2.6,2.4,2.5],
 [2.9,2.4,2.0,2.3,2.7,2.4,2.8,2.5,2.9,2.6,3.0,2.7,3.1,2.8,3.2,2.9,3.3,3.0,3.4,3.1,3.5,3.2,3.6,3.3,3.7,3.4,3.8,3.5,3.9,3.6,4.0,3.7,4.1,3.8,4.2,3.9,4.3,4.0,4.4,4.1,4.5,4.2,4.6,4.3,4.7,4.4,4.8,4.5,4.9,4.6],
 [3.8,3.1,2.5,2.9,2.5,2.8,2.4,2.7,2.3,2.6,2.2,2.5,2.1,2.4,2.0,2.3,2.6,2.3,2.6,2.3,2.0,2.3,2.0,2.3,2.6,2.3,2.6,2.3,2.0,2.3,2.0,2.3,2.6,2.3,2.6,2.3,2.0,2.3,2.0,2.3,2.6,2.3,2.6,2.3,2.0,2.3,2.0,2.2,2.0,2.1],
 [3.2,2.6,2.2,2.6,3.0,2.7,3.1,3.5,3.2,3.6,4.0,3.7,4.1,4.5,4.2,4.6,5.0,4.7,5.1,4.8,4.4,4.8,4.4,4.0,4.4,4.0,3.6,4.0,3.6,3.3,3.6,3.3,3.0,3.3,3.0,2.8,3.1,2.8,2.6,2.9,2.6,2.4,2.7,2.4,2.2,2.5,2.2,2.5,2.3,2.4],
 [4.5,3.5,2.9,3.2,2.8,3.1,2.7,3.0,2.6,2.9,2.5,2.8,2.4,2.7,2.3,2.6,2.2,2.5,2.1,2.4,2.0,2.3,2.6,2.3,2.6,2.9,2.6,2.9,2.6,2.9,3.2,2.9,3.2,2.9,3.2,3.5,3.2,3.5,3.2,3.5,3.8,3.5,3.8,3.5,3.8,4.1,3.8,4.1,3.9,4.0],
 [3.0,2.5,2.1,2.4,2.1,2.4,2.1,2.4,2.1,2.4,2.7,2.4,2.7,2.4,2.7,3.0,2.7,3.0,2.7,3.0,2.7,2.4,2.7,2.4,2.7,2.4,2.1,2.4,2.1,2.4,2.1,2.4,2.1,1.8,2.1,1.8,2.1,1.8,2.1,1.8,2.1,2.4,2.1,2.4,2.1,2.4,2.1,1.8,2.0,1.9],
 [3.5,2.9,2.4,2.8,2.4,2.8,2.4,2.8,3.2,2.9,3.3,2.9,3.3,3.7,3.3,3.7,4.1,3.7,4.1,3.7,4.1,4.5,4.1,4.5,4.1,4.5,4.9,4.5,4.9,4.5,4.9,5.3,4.9,5.3,4.9,5.3,5.7,5.3,5.7,5.3,5.7,6.1,5.7,6.1,5.7,6.1,6.5,6.1,6.5,6.3],
 [3.9,3.0,2.4,2.7,2.3,2.6,2.2,2.5,2.1,2.4,2.0,2.3,1.9,2.2,1.8,2.1,1.7,2.0,1.6,1.9,1.6,1.9,1.7,2.0,1.7,2.0,1.8,2.1,1.8,2.1,1.9,2.2,1.9,2.2,2.0,2.3,2.0,2.3,2.1,2.4,2.1,2.4,2.2,2.5,2.2,2.5,2.3,2.6,2.4,2.5],
 [3.3,2.7,2.3,2.7,3.1,2.8,3.2,2.8,3.2,3.6,3.2,3.6,3.2,3.6,4.0,3.6,4.0,3.6,4.0,3.6,3.2,3.6,3.2,3.6,3.2,2.8,3.2,2.8,3.2,2.8,3.2,2.8,3.2,2.8,2.4,2.8,2.4,2.8,2.4,2.8,3.2,2.8,3.2,2.8,3.2,2.8,3.2,2.9,3.1,3.0],
 [4.3,3.4,2.8,3.2,2.8,3.2,2.8,3.2,2.8,3.2,2.8,3.1,2.7,3.0,2.6,2.9,2.5,2.8,2.5,2.8,2.5,2.8,2.5,2.8,2.5,2.8,2.5,2.8,3.1,2.8,3.1,2.8,3.1,3.4,3.1,3.4,3.1,3.4,3.7,3.4,3.7,3.4,3.7,3.4,3.7,3.4,3.1,3.4,3.2,3.3],
 [3.1,2.5,2.0,2.3,1.9,2.2,1.8,2.1,1.8,2.1,1.8,2.1,1.8,2.1,2.4,2.1,2.4,2.1,2.4,2.1,1.8,2.1,1.8,2.1,1.8,2.1,2.4,2.1,2.4,2.1,2.4,2.7,2.4,2.7,2.4,2.7,2.4,2.7,2.4,2.1,2.4,2.1,2.4,2.1,1.8,2.1,1.8,2.1,1.9,2.0],
]

titles = ["Univariate 2nd order", "Bivariate 2nd order"]
xlabel = "Traces [*50]"
ylabel = "-log10(p-value)"
legend_labels = ["collision", "non-collision"]
yticks = list(range(0, 21, 2))
xticks = [10, 20, 30, 40, 50]

RED = "#ff0000"
GRAY = "#a0a0a0"
TXT = "#404040"
FONT = ["Liberation Mono", "DejaVu Sans Mono"]

plt.rcParams["font.family"] = FONT
plt.rcParams["font.size"] = 12

fig = plt.figure(figsize=(8.4, 4.25), dpi=100)
ax1 = fig.add_axes([54/840, 1-378/425, (389-54)/840, (378-22)/425])
ax2 = fig.add_axes([495/840, 1-378/425, (829-495)/840, (378-22)/425])

for ax, col, non, title in [(ax1, uni_collision, uni_noncollision, titles[0]),
                            (ax2, biv_collision, biv_noncollision, titles[1])]:
    for s in non:
        ax.plot(traces, s, color=GRAY, lw=0.8)
    for s in col:
        ax.plot(traces, s, color=RED, lw=0.8)
    ax.set_xlim(1, 50)
    ax.set_ylim(0, 20)
    ax.set_xticks(xticks)
    ax.set_yticks(yticks)
    for sp in ["top", "right"]:
        ax.spines[sp].set_visible(False)
    for sp in ["left", "bottom"]:
        ax.spines[sp].set_color("#262626")
        ax.spines[sp].set_linewidth(0.8)
    ax.tick_params(direction="out", length=3, width=0.8, colors="#262626",
                   labelcolor=TXT, labelsize=12, pad=2)
    ax.set_title(title, fontsize=12, fontweight="bold", color="black", pad=4)
    ax.set_xlabel(xlabel, color=TXT, fontsize=12, labelpad=3)
    ax.set_ylabel(ylabel, color=TXT, fontsize=12, labelpad=2)

handles = [Line2D([0], [0], color=RED, lw=2, alpha=0.55),
           Line2D([0], [0], color=GRAY, lw=0.9)]
leg = ax2.legend(handles, legend_labels, loc="upper right",
                 bbox_to_anchor=(0.981, 0.978), fancybox=False, framealpha=1,
                 edgecolor="#262626", fontsize=12.5, handlelength=2.0,
                 handletextpad=0.2, borderpad=0.25, labelspacing=0.25,
                 borderaxespad=0.0)
leg.get_frame().set_linewidth(0.8)
for t in leg.get_texts():
    t.set_color(TXT)

fig.savefig("out.png", dpi=100)
